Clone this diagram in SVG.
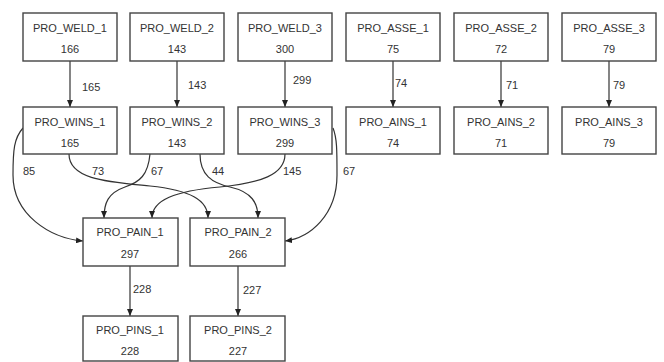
<svg xmlns="http://www.w3.org/2000/svg" width="664" height="362" viewBox="0 0 664 362">
<style>
.box{fill:#fff;stroke:#444;stroke-width:1.4}
.t{font-family:"Liberation Sans",Arial,sans-serif;font-size:11px;fill:#333;text-anchor:middle}
.l{font-family:"Liberation Sans",Arial,sans-serif;font-size:11px;fill:#333}
.e{fill:none;stroke:#333;stroke-width:1.2;marker-end:url(#ah)}
</style>
<defs>
<marker id="ah" markerWidth="7" markerHeight="6" refX="7" refY="3" orient="auto" markerUnits="userSpaceOnUse">
<path d="M0,0 L7,3 L0,6 z" fill="#222"/>
</marker>
</defs>
<rect width="664" height="362" fill="#fff"/>
<g id="edges">
<path class="e" d="M70,61 V107"/>
<path class="e" d="M177,61 V107"/>
<path class="e" d="M285,61 V107"/>
<path class="e" d="M393,61 V107"/>
<path class="e" d="M501,61 V107"/>
<path class="e" d="M609,61 V107"/>
<path class="e" d="M130,266 V316"/>
<path class="e" d="M238,266 V316"/>
<path class="e" d="M23,128 C14,138 13,150 13,175 C13,215 50,238 83,241"/>
<path class="e" d="M69,154 C69,180 110,182 150,186 C190,190 208,200 208,218"/>
<path class="e" d="M150,154 C148,175 140,182 125,187 C108,193 104,203 104,218"/>
<path class="e" d="M200,154 C200,175 212,183 230,187 C252,192 258,203 258,218"/>
<path class="e" d="M285,154 C285,175 260,183 220,187 C175,191 152,200 152,218"/>
<path class="e" d="M333,128 C337,138 337,150 337,175 C337,215 310,238 285,241"/>
<text class="l" x="82" y="91">165</text>
<text class="l" x="188" y="89">143</text>
<text class="l" x="293" y="84">299</text>
<text class="l" x="395" y="87">74</text>
<text class="l" x="506" y="89">71</text>
<text class="l" x="613" y="89">79</text>
<text class="l" x="23" y="175">85</text>
<text class="l" x="92" y="175">73</text>
<text class="l" x="151" y="175">67</text>
<text class="l" x="212" y="175">44</text>
<text class="l" x="283" y="175">145</text>
<text class="l" x="343" y="175">67</text>
<text class="l" x="133" y="293">228</text>
<text class="l" x="243" y="294">227</text>
</g>
<g id="PRO_WELD_1"><rect class="box" x="23" y="13" width="94" height="48"/><text class="t" x="70" y="32">PRO_WELD_1</text><text class="t" x="70" y="53">166</text></g>
<g id="PRO_WELD_2"><rect class="box" x="130" y="13" width="94" height="48"/><text class="t" x="177" y="32">PRO_WELD_2</text><text class="t" x="177" y="53">143</text></g>
<g id="PRO_WELD_3"><rect class="box" x="238" y="13" width="94" height="48"/><text class="t" x="285" y="32">PRO_WELD_3</text><text class="t" x="285" y="53">300</text></g>
<g id="PRO_ASSE_1"><rect class="box" x="346" y="13" width="94" height="48"/><text class="t" x="393" y="32">PRO_ASSE_1</text><text class="t" x="393" y="53">75</text></g>
<g id="PRO_ASSE_2"><rect class="box" x="454" y="13" width="94" height="48"/><text class="t" x="501" y="32">PRO_ASSE_2</text><text class="t" x="501" y="53">72</text></g>
<g id="PRO_ASSE_3"><rect class="box" x="562" y="13" width="94" height="48"/><text class="t" x="609" y="32">PRO_ASSE_3</text><text class="t" x="609" y="53">79</text></g>
<g id="PRO_WINS_1"><rect class="box" x="23" y="107" width="94" height="47"/><text class="t" x="70" y="126">PRO_WINS_1</text><text class="t" x="70" y="147">165</text></g>
<g id="PRO_WINS_2"><rect class="box" x="130" y="107" width="94" height="47"/><text class="t" x="177" y="126">PRO_WINS_2</text><text class="t" x="177" y="147">143</text></g>
<g id="PRO_WINS_3"><rect class="box" x="238" y="107" width="94" height="47"/><text class="t" x="285" y="126">PRO_WINS_3</text><text class="t" x="285" y="147">299</text></g>
<g id="PRO_AINS_1"><rect class="box" x="346" y="107" width="94" height="47"/><text class="t" x="393" y="126">PRO_AINS_1</text><text class="t" x="393" y="147">74</text></g>
<g id="PRO_AINS_2"><rect class="box" x="454" y="107" width="94" height="47"/><text class="t" x="501" y="126">PRO_AINS_2</text><text class="t" x="501" y="147">71</text></g>
<g id="PRO_AINS_3"><rect class="box" x="562" y="107" width="94" height="47"/><text class="t" x="609" y="126">PRO_AINS_3</text><text class="t" x="609" y="147">79</text></g>
<g id="PRO_PAIN_1"><rect class="box" x="83" y="218" width="95" height="48"/><text class="t" x="130" y="236">PRO_PAIN_1</text><text class="t" x="130" y="258">297</text></g>
<g id="PRO_PAIN_2"><rect class="box" x="190" y="218" width="95" height="48"/><text class="t" x="238" y="236">PRO_PAIN_2</text><text class="t" x="238" y="258">266</text></g>
<g id="PRO_PINS_1"><rect class="box" x="83" y="316" width="95" height="45"/><text class="t" x="130" y="334">PRO_PINS_1</text><text class="t" x="130" y="355">228</text></g>
<g id="PRO_PINS_2"><rect class="box" x="190" y="316" width="95" height="45"/><text class="t" x="238" y="334">PRO_PINS_2</text><text class="t" x="238" y="355">227</text></g>
</svg>
